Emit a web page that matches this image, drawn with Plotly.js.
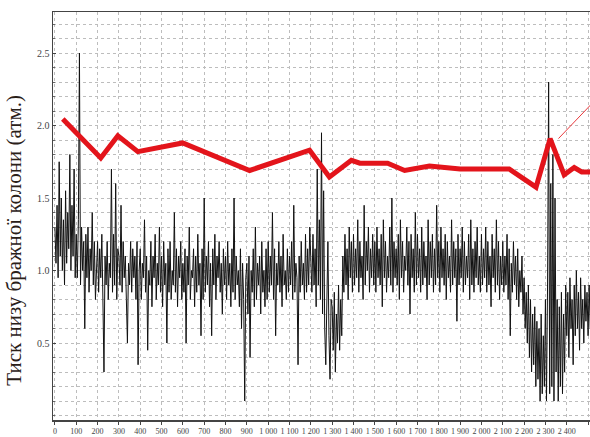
<!DOCTYPE html>
<html>
<head>
<meta charset="utf-8">
<script src="https://cdn.plot.ly/plotly-3.0.1.min.js"></script>
<style>html,body{margin:0;padding:0;background:#fff;}#chart{width:590px;height:437px;}</style>
</head>
<body>
<div id="chart"></div>
<script>
// Black pressure signal: samples every 5 units starting at 0
const sampleStep = 5;
const pressureValues = [
  1.3,1.05,1.45,0.95,1.75,1.1,1.5,1.0,1.35,0.9,1.55,1.05,1.4,1.15,1.8,1.0,1.45,1.1,1.7,0.95,
  1.25,0.95,1.35,2.5,0.9,1.3,1.0,1.2,0.6,1.25,0.95,1.3,0.85,1.15,1.0,1.4,0.9,1.2,0.8,1.1,
  1.2,0.85,1.15,0.95,1.25,0.8,0.3,1.1,0.9,1.2,0.8,1.05,0.95,1.7,0.85,1.25,0.9,1.6,0.8,1.15,
  1.1,0.9,1.45,0.85,1.2,0.95,1.1,0.8,0.5,1.05,0.9,1.2,0.85,1.15,0.95,1.1,0.8,1.2,0.35,1.0,
  1.15,0.8,1.05,0.95,1.35,0.85,1.1,0.45,1.0,0.9,1.2,0.75,1.1,0.95,1.25,0.8,1.05,0.9,1.3,0.85,
  1.1,0.75,1.2,0.9,1.05,0.5,1.15,0.85,1.2,0.8,1.0,0.9,1.4,0.85,1.15,0.75,1.1,0.95,1.2,0.8,
  1.05,0.85,1.15,0.5,1.1,0.9,1.3,0.8,1.0,0.95,1.15,0.75,1.1,0.85,1.25,0.9,1.05,0.55,1.15,0.8,
  1.5,0.85,1.1,0.9,1.2,0.75,1.05,0.55,1.15,0.9,1.25,0.8,1.1,0.95,1.2,0.85,1.05,0.7,1.15,0.9,
  1.1,0.8,1.2,0.9,1.05,0.75,1.15,0.85,1.5,0.8,1.1,0.9,1.0,0.75,1.15,0.6,1.05,0.8,0.1,0.95,
  1.05,0.7,1.1,0.4,1.0,0.85,1.15,0.75,1.3,0.8,1.05,0.9,1.1,0.7,1.2,0.85,1.0,0.75,1.15,0.8,
  1.2,0.85,1.1,0.9,1.4,0.8,1.15,0.55,1.05,0.9,1.2,0.85,1.1,0.75,1.25,0.9,1.0,0.8,1.15,0.85,
  1.1,0.9,1.2,0.8,1.45,0.85,1.05,0.95,0.35,1.1,0.85,1.2,0.9,1.05,0.8,1.25,0.85,1.15,0.9,1.3,
  1.1,0.85,1.25,0.9,1.15,0.75,1.7,0.9,1.35,0.8,1.95,0.7,1.55,0.6,0.35,1.0,1.2,0.55,0.25,0.8,
  0.75,0.45,0.85,0.3,0.7,0.5,0.9,0.45,0.8,0.55,1.1,0.85,1.25,0.9,1.15,0.8,1.3,0.95,1.2,0.85,
  1.25,0.9,1.15,0.95,1.35,0.85,1.2,0.95,1.1,0.8,1.45,0.9,1.2,1.0,1.3,0.85,1.15,0.95,1.25,0.9,
  1.2,0.85,1.3,0.95,1.15,0.9,1.25,0.75,1.35,0.95,1.2,0.85,1.1,0.95,1.3,0.9,1.5,0.85,1.2,0.95,
  1.15,0.9,1.25,0.8,1.35,0.95,1.2,0.85,1.1,1.0,1.3,0.9,1.2,0.7,1.25,0.95,1.15,0.85,1.4,0.9,
  1.25,0.95,1.15,0.85,1.3,0.9,1.2,0.95,1.1,0.8,1.35,0.9,1.2,0.95,1.25,0.85,1.15,0.9,1.45,0.95,
  1.2,0.85,1.3,0.95,1.15,0.9,1.25,0.8,1.2,0.95,1.1,0.85,1.35,0.9,1.2,0.95,1.15,0.65,1.25,0.9,
  1.15,0.95,1.3,0.85,1.2,0.9,1.1,0.95,1.25,0.8,1.35,0.9,1.15,0.85,1.2,0.95,1.3,0.9,1.1,0.85,
  1.25,0.9,1.15,0.95,1.3,0.85,1.2,0.9,1.1,0.75,1.25,0.95,1.15,0.85,1.35,0.9,1.2,0.8,1.1,0.9,
  1.2,0.85,1.1,0.9,1.25,0.8,1.15,0.55,1.05,0.85,1.2,0.9,1.1,0.8,1.15,0.75,1.0,0.85,1.1,0.7,
  0.95,0.6,0.85,0.5,0.9,0.4,0.8,0.3,0.7,0.35,0.75,0.2,0.65,0.25,0.6,0.1,0.7,0.15,0.55,0.2,
  0.8,0.1,0.9,2.3,0.15,1.6,0.2,1.8,0.1,1.5,0.3,0.8,0.1,0.75,0.2,0.85,0.15,0.7,0.3,0.9,
  0.55,0.85,0.4,0.95,0.6,0.8,0.35,0.9,0.55,1.0,0.6,0.85,0.45,0.95,0.6,0.8,0.5,0.9,0.65,0.85,
  0.55,0.9,0.6
];

// Red trend line
const trendX = [37, 215, 295, 389, 599, 913, 1194, 1287, 1390, 1430, 1560, 1640, 1756, 1900, 2130, 2256, 2322, 2388, 2435, 2470, 2520];
const trendY = [2.045, 1.776, 1.93, 1.82, 1.88, 1.69, 1.83, 1.645, 1.76, 1.74, 1.74, 1.69, 1.72, 1.70, 1.70, 1.575, 1.91, 1.66, 1.71, 1.68, 1.68];

// Pointer line from the peak
const pointerX = [2361, 2530];
const pointerY = [1.91, 2.17];

const xTickVals = [0,100,200,300,400,500,600,700,800,900,1000,1100,1200,1300,1400,1500,1600,1700,1800,1900,2000,2100,2200,2300,2400,2500];
const xTickText = ['0','100','200','300','400','500','600','700','800','900','1 000','1 100','1 200','1 300','1 400','1 500','1 600','1 700','1 800','1 900','2 000','2 100','2 200','2 300','2 400','2 500'];
const yTickVals = [0.5, 1.0, 1.5, 2.0, 2.5];
const yTickText = ['0.5', '1.0', '1.5', '2.0', '2.5'];
const yTitle = 'Тиск низу бражної колони (атм.)';

const pressureX = pressureValues.map((_, i) => i * sampleStep);

const data = [
  {
    x: pressureX, y: pressureValues, type: 'scatter', mode: 'lines',
    line: {color: '#111111', width: 1}, hoverinfo: 'skip'
  },
  {
    x: trendX, y: trendY, type: 'scatter', mode: 'lines',
    line: {color: '#e3141b', width: 5}, hoverinfo: 'skip'
  },
  {
    x: pointerX, y: pointerY, type: 'scatter', mode: 'lines',
    line: {color: '#e8383c', width: 1}, hoverinfo: 'skip'
  }
];

const layout = {
  width: 590, height: 437,
  margin: {l: 53, r: 0, t: 12, b: 17},
  paper_bgcolor: '#ffffff', plot_bgcolor: '#ffffff',
  showlegend: false,
  font: {family: 'Liberation Serif, serif', color: '#444'},
  xaxis: {
    range: [-9, 2509],
    tickvals: xTickVals, ticktext: xTickText,
    tickfont: {size: 8, color: '#444', family: 'Liberation Serif, serif'},
    showgrid: true, gridcolor: '#bdbdbd', griddash: 'dot', gridwidth: 1,
    zeroline: false,
    showline: true, linecolor: '#444', linewidth: 1.5, mirror: true,
    ticks: 'outside', ticklen: 3, tickcolor: '#444',
    fixedrange: true
  },
  yaxis: {
    range: [-0.031, 2.783],
    tickvals: yTickVals, ticktext: yTickText,
    tickfont: {size: 10, color: '#444', family: 'Liberation Serif, serif'},
    showgrid: false,
    zeroline: false,
    showline: true, linecolor: '#444', linewidth: 1.5,
    ticks: 'inside', ticklen: 3, tickcolor: '#444',
    minor: {dtick: 0.1, tick0: 0, showgrid: true, gridcolor: '#bdbdbd', griddash: 'dot', ticks: 'inside', ticklen: 2, tickcolor: '#666'},
    fixedrange: true
  },
  annotations: [{
    text: yTitle, textangle: -90, showarrow: false,
    xref: 'paper', yref: 'paper', x: -0.072, y: 0.44,
    xanchor: 'center', yanchor: 'middle',
    font: {size: 21, color: '#2a2018', family: 'Liberation Serif, serif'}
  }]
};

Plotly.newPlot('chart', data, layout, {displayModeBar: false, staticPlot: true});
</script>
</body>
</html>
